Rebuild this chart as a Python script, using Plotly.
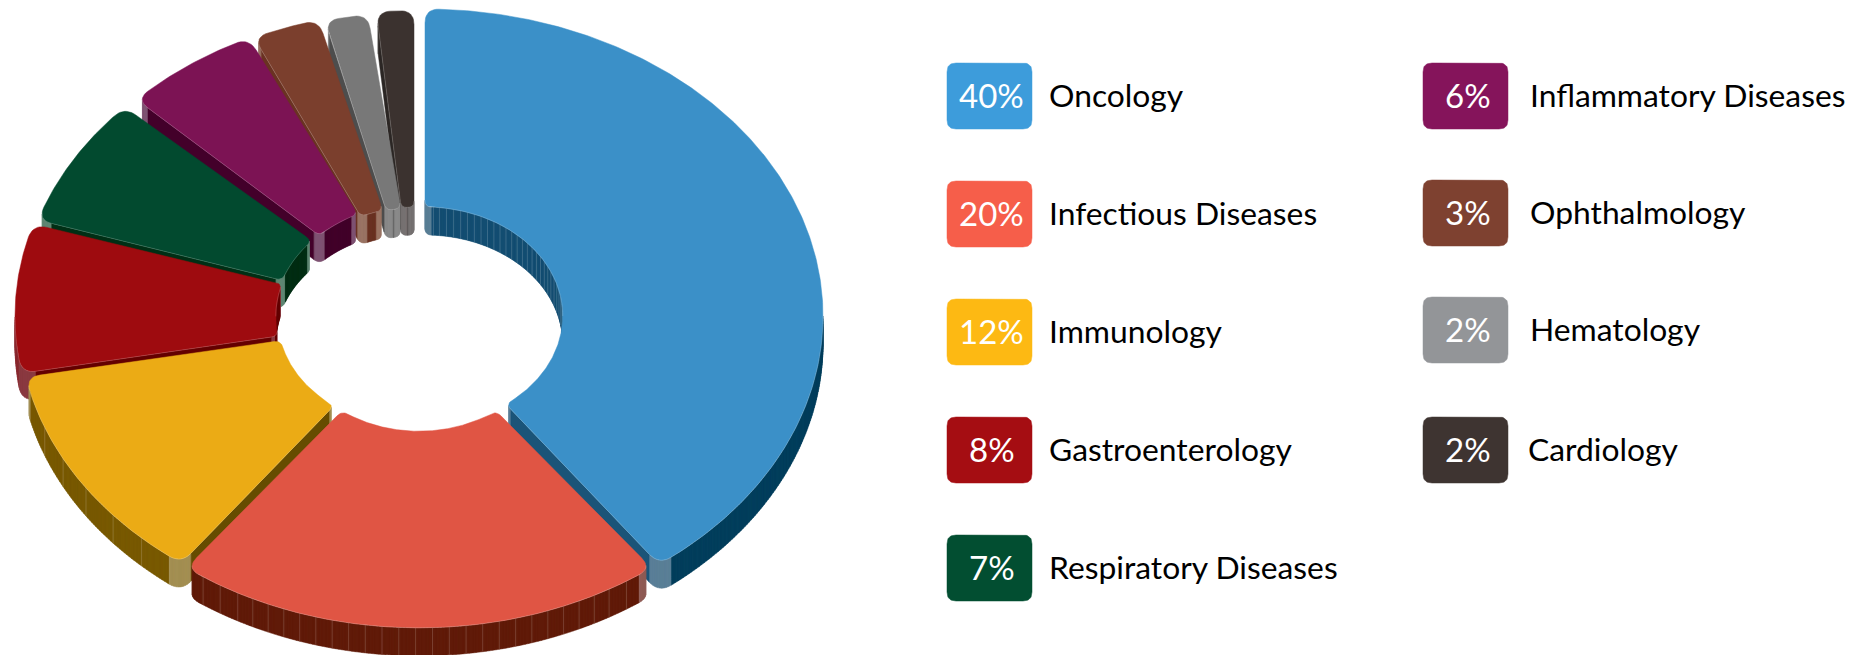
import math
import plotly.graph_objects as go

# ---------- data ----------
categories = ["Oncology", "Infectious Diseases", "Immunology", "Gastroenterology",
              "Respiratory Diseases", "Inflammatory Diseases", "Ophthalmology",
              "Hematology", "Cardiology"]
shares = [40, 20, 12, 8, 7, 6, 3, 2, 2]

# ---------- style ----------
# how far each slice is pulled from the pie centre, its radial size, hole and side gaps
pull_x = [6, 0, -6, -8, -10, -5, -3, -1, -5]
pull_y = [3, 17, 8, 3, 0, -4, 0, 0, 0]
size = [1.0, 0.97, 0.975, 0.995, 0.98, 0.975, 0.985, 0.98, 0.985]
size_w = [1.0, 0.97, 0.99, 0.995, 0.98, 0.975, 0.985, 0.98, 0.985]
hole = [0.355, 0.34, 0.35, 0.35, 0.35, 0.35, 0.35, 0.35, 0.35]
HOLE_W = 0.975
gap_start = [0, -1, 0, 0, 0, 1.2, 0.8, 0.6, 1.7]
gap_end = [0, -1, 0, 0.5, 0, 0, 0, 0.2, 0]

top_col = ["#3B90C8", "#E05544", "#EBAB15", "#9E0B0F", "#024A2F", "#7C1354", "#7B3F2D", "#787878", "#3B322F"]
outer_side = ["#033E5C", "#601A08", "#785900", "#8A2A30", "#3F6B55", "#5E2A4C", "#6A3222", "#4D4D4D", "#2B2624"]
radial_side = ["#1B5478", "#601A08", "#664C00", "#640000", "#002F15", "#43002A", "#6A3222", "#4D4D4D", "#2B2624"]
inner_side = ["#154F73", "#601A08", "#664C00", "#640000", "#002F15", "#43002A", "#6A3222", "#666666", "#555050"]
corner_side = ["#5A7F97", "#8F5B55", "#A38F52", "#8A3A40", "#5F8672", "#7F5372", "#9A7564", "#8A8A8A", "#777272"]
legend_col = ["#3D9CDB", "#F65E4A", "#FDB913", "#A50D12", "#024E31", "#85145B", "#7E4130", "#939598", "#3E3431"]
facet_outer = [0, 16, 36, 0, 0, 0, 0, 0, 0]
facet_inner = [6, 0, 0, 0, 0, 0, 0, 0, 0]
paint_order = [0, 8, 7, 6, 5, 4, 3, 2, 1]
DARK_CORNER = {1: 0}  # slice whose outer end corner stays in shadow

CX, CY = 419, 313
RX, RY = 398, 307
DEPTH = 28
CORNER_R = [14, 7, 7, 14]
FONT = "Lato"


def project(deg, rw, rh, idx):
    """Polar value on the disc to the tilted screen plane."""
    a = math.radians(deg)
    return (CX + pull_x[idx] + rw * math.sin(a) * RX,
            CY + pull_y[idx] - rh * math.cos(a) * RY)


def trim(path, start, end):
    """Cut a length off both ends of a polyline."""
    def cut(pts, d):
        left = d
        for i in range(len(pts) - 1):
            seg = math.dist(pts[i], pts[i + 1])
            if seg >= left and seg > 0:
                t = left / seg
                p = (pts[i][0] + t * (pts[i + 1][0] - pts[i][0]), pts[i][1] + t * (pts[i + 1][1] - pts[i][1]))
                return [p] + pts[i + 1:]
            left -= seg
        return pts[-1:]
    a = cut(path, start)
    return cut(a[::-1], end)[::-1]


def length(path):
    return sum(math.dist(path[i], path[i + 1]) for i in range(len(path) - 1))


def rounded(sections, radii):
    """Closed outline through the sections, each joint rounded. Returns (x, y, kind) points."""
    n = len(sections)
    out = []
    lens = [length(pts) for _, pts in sections]
    joints = [min(radii[i], 0.48 * lens[i], 0.48 * lens[(i + 1) % n]) for i in range(n)]
    cut_secs = []
    for i, (name, pts) in enumerate(sections):
        cut_secs.append((name, trim(pts, joints[i - 1], joints[i])))
    for i, (name, pts) in enumerate(cut_secs):
        out += [(p[0], p[1], name) for p in pts]
        ctrl = sections[i][1][-1]
        p0 = pts[-1]
        p1 = cut_secs[(i + 1) % n][1][0]
        for k in range(1, 10):
            t = k / 10
            x = (1 - t) ** 2 * p0[0] + 2 * t * (1 - t) * ctrl[0] + t * t * p1[0]
            y = (1 - t) ** 2 * p0[1] + 2 * t * (1 - t) * ctrl[1] + t * t * p1[1]
            out.append((x, y, f"corner{i}"))
    return out


def signed_area(pts):
    return sum(pts[i][0] * pts[(i + 1) % len(pts)][1] - pts[(i + 1) % len(pts)][0] * pts[i][1]
               for i in range(len(pts))) / 2


fig = go.Figure()


def poly(xs, ys, color, width=0.6, line=None):
    fig.add_trace(go.Scatter(x=xs, y=ys, mode="lines", fill="toself", fillcolor=color,
                             line=dict(color=line or color, width=width), hoverinfo="skip", showlegend=False))


def segs(xs, ys, color, width):
    fig.add_trace(go.Scatter(x=xs, y=ys, mode="lines", line=dict(color=color, width=width),
                             hoverinfo="skip", showlegend=False))


total = sum(shares)
starts = []
acc = 0
for v in shares:
    starts.append(acc / total * 360)
    acc += v

for idx in paint_order:
    a0 = starts[idx] + gap_start[idx]
    a1 = starts[idx] + shares[idx] / total * 360 - gap_end[idx]
    steps = max(6, int((a1 - a0) * 2))
    angs = [a0 + (a1 - a0) * k / steps for k in range(steps + 1)]
    outer = [project(a, size_w[idx], size[idx], idx) for a in angs]
    inner = [project(a, size_w[idx] * hole[idx] * HOLE_W, size[idx] * hole[idx], idx) for a in angs[::-1]]
    sections = [("outer", outer), ("end", [outer[-1], inner[0]]),
                ("inner", inner), ("start", [inner[-1], outer[0]])]
    path = rounded(sections, CORNER_R)
    pts = [(p[0], p[1]) for p in path]
    sgn = 1 if signed_area(pts) > 0 else -1

    groups = {}
    edge_x, edge_y = [], []
    facet_x, facet_y = [], []
    run = {"outer": 0.0, "inner": 0.0}
    for i in range(len(path)):
        x0, y0, kind = path[i]
        x1, y1, kind2 = path[(i + 1) % len(path)]
        ex, ey = x1 - x0, y1 - y0
        # outward normal pointing down the screen means the wall is visible
        ny = -ex * sgn
        if ny <= 0:
            continue
        use = kind if kind.startswith("corner") else (kind2 if kind2.startswith("corner") else kind)
        if use.startswith("corner"):
            if DARK_CORNER.get(idx) == int(use[-1]):
                col = outer_side[idx]
            else:
                col = corner_side[idx]
        else:
            col = {"outer": outer_side[idx], "inner": inner_side[idx], "start": radial_side[idx],
                   "end": radial_side[idx]}[use]
        q = [(x0, y0), (x1, y1), (x1, y1 + DEPTH), (x0, y0 + DEPTH)]
        if signed_area(q) < 0:
            q = q[::-1]
        g = groups.setdefault(col, ([], []))
        g[0].extend([p[0] for p in q] + [q[0][0], None])
        g[1].extend([p[1] for p in q] + [q[0][1], None])
        edge_x += [x0, x1, None]
        edge_y += [y0, y1, None]
        spacing = {"outer": facet_outer[idx], "inner": facet_inner[idx]}.get(use, 0)
        if spacing:
            run[use] += math.hypot(ex, ey)
            if run[use] >= spacing:
                run[use] = 0.0
                facet_x += [x0, x0, None]
                facet_y += [y0, y0 + DEPTH, None]
    for col, (gx, gy) in groups.items():
        poly(gx, gy, col, width=0.5)
    if facet_x:
        segs(facet_x, facet_y, "rgba(255,255,255,0.22)", 0.8)
    poly([p[0] for p in pts] + [pts[0][0]], [p[1] for p in pts] + [pts[0][1]], top_col[idx], width=0.5)
    if edge_x:
        segs(edge_x, edge_y, "rgba(255,255,255,0.30)", 0.6)


# ---------- legend ----------
COLS = [(947, 1032, 1046.5), (1423, 1508, 1528)]
ROWS_Y = [[63, 181, 299, 417, 535], [63, 180, 297, 417]]
annotations = []
k = 0
for c, rows in enumerate(ROWS_Y):
    xl, xr, tx = COLS[c]
    for yt in rows:
        yb = yt + 66
        box = [("a", [(xl, yt), (xr, yt)]), ("b", [(xr, yt), (xr, yb)]),
               ("c", [(xr, yb), (xl, yb)]), ("d", [(xl, yb), (xl, yt)])]
        out = rounded(box, [9, 9, 9, 9])
        poly([p[0] for p in out] + [out[0][0]], [p[1] for p in out] + [out[0][1]], legend_col[k], width=0.5)
        annotations.append(dict(x=(xl + xr) / 2 + 2, y=yt + 32, text=f"{shares[k]}%", showarrow=False,
                                xanchor="center", yanchor="middle", font=dict(family=FONT, size=33, color="#FFFFFF")))
        annotations.append(dict(x=tx if k != 8 else tx - 2, y=yt + 32, text=categories[k], showarrow=False,
                                xanchor="left", yanchor="middle", font=dict(family=FONT, size=31.8, color="#000000")))
        k += 1

fig.update_layout(
    width=1863, height=655, margin=dict(l=0, r=0, t=0, b=0),
    paper_bgcolor="#FFFFFF", plot_bgcolor="#FFFFFF", showlegend=False,
    xaxis=dict(range=[0, 1863], visible=False, fixedrange=True),
    yaxis=dict(range=[655, 0], visible=False, fixedrange=True),
    annotations=annotations,
)
fig.write_html("out.html", config={"displayModeBar": False},
               post_script="document.body.style.margin='0';document.body.style.overflow='hidden';")
